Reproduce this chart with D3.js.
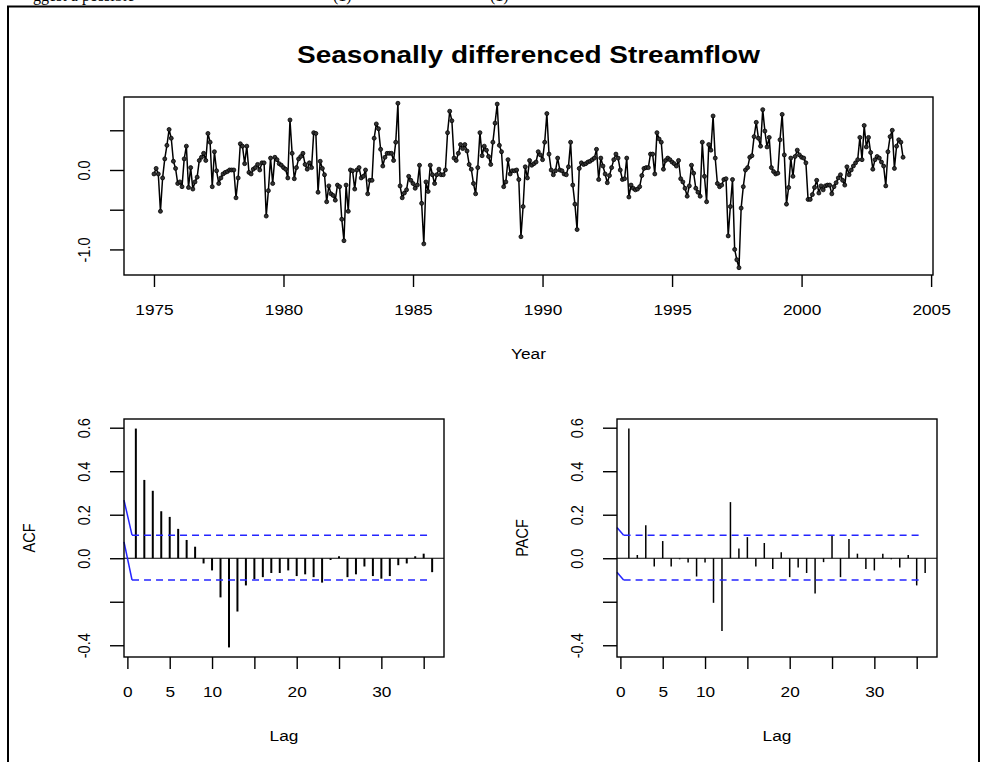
<!DOCTYPE html>
<html>
<head>
<meta charset="utf-8">
<script src="https://cdn.jsdelivr.net/npm/d3@7"></script>
<style>
  body { margin: 0; background: #fff; }
  svg { display: block; }
  text { font-family: "Liberation Sans", Arial, sans-serif; fill: #000; }
</style>
</head>
<body>
<div id="chart"></div>
<script>

// seasonally differenced streamflow, monthly from Jan 1975
var flowStart = 1975;
var flowValues = [
  -0.05, 0.02, -0.05, -0.52, -0.10, 0.14, 0.31, 0.51, 0.40, 0.11, 0.02, -0.17,   // 1975
  -0.15, -0.21, 0.14, 0.30, -0.22, 0.03, -0.24, -0.15, -0.09, 0.12, 0.16, 0.21,  // 1976
  0.12, 0.46, 0.35, -0.21, 0.23, -0.01, -0.17, -0.10, -0.05, -0.03, -0.02, 0.00, // 1977
  0.00, 0.00, -0.35, -0.10, 0.33, 0.30, 0.08, 0.30, -0.03, -0.05, 0.01, 0.03,    // 1978
  0.07, 0.00, 0.09, 0.09, -0.58, -0.26, 0.15, -0.17, 0.16, 0.13, 0.08, 0.06,     // 1979
  0.03, 0.01, -0.10, 0.63, 0.21, -0.11, 0.03, 0.14, 0.17, 0.21, 0.07, 0.01,      // 1980
  0.09, 0.03, 0.47, 0.46, -0.28, 0.11, 0.02, -0.06, -0.40, -0.20, -0.30, -0.32,  // 1981
  -0.38, -0.19, -0.21, -0.62, -0.89, -0.19, -0.52, 0.00, -0.01, -0.24, 0.00, 0.03, // 1982
  -0.10, -0.08, 0.00, -0.30, -0.13, -0.13, 0.40, 0.58, 0.52, 0.26, 0.05, 0.16,   // 1983
  0.21, 0.21, 0.21, 0.12, 0.35, 0.84, -0.20, -0.35, -0.29, -0.25, -0.08, -0.13,  // 1984
  -0.17, -0.23, -0.19, 0.06, -0.42, -0.93, -0.15, -0.27, 0.06, -0.06, -0.17, -0.06, // 1985
  0.01, -0.06, -0.06, 0.00, 0.47, 0.74, 0.62, 0.15, 0.12, 0.21, 0.32, 0.27,      // 1986
  0.32, 0.24, 0.07, 0.01, -0.17, -0.30, 0.03, 0.47, 0.18, 0.30, 0.25, 0.17,      // 1987
  0.07, 0.35, 0.59, 0.83, 0.31, 0.23, -0.21, -0.15, 0.13, -0.05, -0.01, -0.01,   // 1988
  0.00, -0.12, -0.84, -0.46, 0.04, -0.10, 0.12, 0.06, 0.08, 0.10, 0.23, 0.19,    // 1989
  0.13, 0.35, 0.71, 0.20, 0.00, -0.06, -0.01, 0.15, 0.00, -0.01, -0.05, -0.06,   // 1990
  0.04, 0.35, -0.19, -0.43, -0.75, 0.02, 0.09, 0.07, 0.08, 0.10, 0.11, 0.13,     // 1991
  0.15, 0.26, -0.12, 0.15, 0.05, -0.05, -0.16, -0.07, 0.03, 0.13, 0.20, 0.15,    // 1992
  0.00, -0.12, -0.11, 0.15, -0.34, -0.19, -0.23, -0.25, -0.24, -0.21, -0.07, 0.02, // 1993
  0.03, 0.03, 0.20, 0.20, -0.05, 0.47, 0.39, 0.35, 0.01, 0.12, 0.15, 0.13,       // 1994
  0.10, 0.08, 0.05, 0.12, -0.11, -0.15, -0.23, -0.33, -0.20, 0.06, -0.04, -0.23, // 1995
  -0.28, -0.33, 0.35, -0.08, -0.40, 0.32, 0.25, 0.68, 0.15, -0.17, -0.21, -0.19, // 1996
  -0.12, -0.11, -0.83, -0.46, -0.12, -1.00, -1.13, -1.23, -0.48, -0.21, 0.00, 0.03, // 1997
  0.16, 0.18, 0.42, 0.60, 0.40, 0.30, 0.76, 0.49, 0.29, 0.41, 0.03, -0.02,       // 1998
  -0.05, -0.04, 0.38, 0.70, 0.19, -0.43, -0.22, 0.15, -0.08, 0.17, 0.25, 0.19,   // 1999
  0.16, 0.15, 0.09, -0.37, -0.37, -0.31, -0.22, -0.13, -0.29, -0.20, -0.25, -0.20, // 2000
  -0.19, -0.19, -0.30, -0.21, -0.16, -0.10, -0.06, -0.13, -0.19, 0.04, -0.06, 0.00, // 2001
  0.05, 0.09, 0.13, 0.41, 0.13, 0.56, 0.29, 0.41, 0.22, 0.01, 0.13, 0.17,        // 2002
  0.15, 0.10, 0.05, -0.20, 0.23, 0.42, 0.50, 0.02, 0.30, 0.38, 0.35, 0.16        // 2003
];
var yearTicks = [1975, 1980, 1985, 1990, 1995, 2000, 2005];
var flowTicks = [-1.0, -0.5, 0.0, 0.5];
var flowTickLabels = ["-1.0", "", "0.0", ""];

// sample ACF / PACF, lags 1..36
var lags = d3.range(1, 37);
var acfValues = [0.596, 0.36, 0.31, 0.216, 0.19, 0.135, 0.084, 0.053, -0.024, -0.056, -0.18, -0.41,
  -0.245, -0.125, -0.096, -0.087, -0.068, -0.068, -0.056, -0.082, -0.074, -0.087, -0.112, -0.008,
  0.009, -0.087, -0.074, -0.038, -0.082, -0.094, -0.082, -0.032, -0.024, 0.009, 0.021, -0.064];
var pacfValues = [0.596, 0.015, 0.152, -0.038, 0.079, -0.038, -0.005, -0.02, -0.084, -0.02, -0.205, -0.334,
  0.258, 0.045, 0.097, -0.038, 0.07, -0.049, 0.027, -0.087, -0.043, -0.068, -0.162, -0.018,
  0.106, -0.087, 0.088, 0.021, -0.049, -0.056, 0.021, -0.005, -0.043, 0.015, -0.125, -0.068];
var lagTicks = [0, 5, 10, 15, 20, 25, 30, 35];
var lagTickLabels = ["0", "5", "10", "", "20", "", "30", ""];
var corTicks = [-0.4, -0.2, 0.0, 0.2, 0.4, 0.6];
var corTickLabels = ["-0.4", "", "0.0", "0.2", "0.4", "0.6"];

// confidence band: [value at left edge, value of dashed line]
var acfUpper = [0.267, 0.106], acfLower = [0.075, -0.100], acfBandLags = [-0.4, 0.55, 35.8];
var pacfUpper = [0.141, 0.106], pacfLower = [-0.064, -0.100], pacfBandLags = [-0.4, 0.38, 35.7];


var W = 985, H = 762;
var SX = 1.19;          // the picture is stretched sideways
var FS = 14.5;

var svg = d3.select("#chart")
  .append("svg")
  .attr("width", W)
  .attr("height", H);

// clipped line of text from the page above
var cut = svg.append("text")
  .attr("y", 1)
  .style("font-family", "'Liberation Serif', 'Times New Roman', serif")
  .style("font-size", "16px");
cut.append("tspan").attr("x", 33).text("ggest a possible");
cut.append("tspan").attr("x", 333).text("(1)");
cut.append("tspan").attr("x", 490).text("(1)");

svg.append("rect")
  .attr("x", 8).attr("y", 6.5)
  .attr("width", 971).attr("height", 800)
  .attr("fill", "none")
  .attr("stroke", "#000")
  .attr("stroke-width", 2);

function label(x, y, str, size, rot, bold) {
  return svg.append("text")
    .attr("text-anchor", "middle")
    .attr("dy", rot ? "0.35em" : 0)
    .attr("transform", "translate(" + x + "," + y + ") scale(" + SX + ",1)" + (rot ? " rotate(-90)" : ""))
    .style("font-size", size + "px")
    .style("font-weight", bold ? "bold" : null)
    .text(str);
}

function bottomAxis(scale, y, ticks, labels) {
  var g = svg.append("g")
    .attr("transform", "translate(0," + y + ")")
    .call(d3.axisBottom(scale).tickValues(ticks).tickSize(12).tickSizeOuter(0)
      .tickFormat(function (d, i) { return labels[i]; }))
    .attr("font-family", null).attr("font-size", null);
  g.select(".domain").remove();
  g.selectAll("line").attr("stroke", "#000").attr("stroke-width", 1.4);
  g.selectAll("text")
    .attr("y", 40).attr("dy", 0)
    .attr("transform", "scale(" + SX + ",1)")
    .style("font-size", FS + "px");
}

function leftAxis(scale, x, ticks, labels) {
  var g = svg.append("g")
    .attr("transform", "translate(" + x + ",0)")
    .call(d3.axisLeft(scale).tickValues(ticks).tickSize(14).tickSizeOuter(0)
      .tickFormat(function (d, i) { return labels[i]; }))
    .attr("font-family", null).attr("font-size", null);
  g.select(".domain").remove();
  g.selectAll("line").attr("stroke", "#000").attr("stroke-width", 1.4);
  g.selectAll("text")
    .attr("x", 0).attr("dy", "0.35em")
    .attr("text-anchor", "middle")
    .attr("transform", "translate(-40,0) scale(" + SX + ",1) rotate(-90)")
    .style("font-size", FS + "px");
}

function box(x0, y0, x1, y1) {
  svg.append("rect")
    .attr("x", x0).attr("y", y0)
    .attr("width", x1 - x0).attr("height", y1 - y0)
    .attr("fill", "none")
    .attr("stroke", "#000")
    .attr("stroke-width", 1.4);
}


// ---- time series panel
var ts = { left: 124, right: 933, top: 97, bottom: 275 };

var xTime = d3.scaleLinear().domain([1973.843, 2005.073]).range([ts.left, ts.right]);
var yFlow = d3.scaleLinear().domain([-1.322, 0.919]).range([ts.bottom, ts.top]);

var flow = flowValues.map(function (v, i) { return { t: flowStart + i / 12, v: v }; });

svg.append("path")
  .datum(flow)
  .attr("fill", "none")
  .attr("stroke", "#000")
  .attr("stroke-width", 1.5)
  .attr("stroke-linejoin", "round")
  .attr("d", d3.line()
    .x(function (d) { return xTime(d.t); })
    .y(function (d) { return yFlow(d.v); }));

svg.selectAll(".pt")
  .data(flow).enter()
  .append("circle")
  .attr("class", "pt")
  .attr("cx", function (d) { return xTime(d.t); })
  .attr("cy", function (d) { return yFlow(d.v); })
  .attr("r", 2)
  .attr("fill", "#333")
  .attr("stroke", "#000")
  .attr("stroke-width", 0.8);

box(ts.left, ts.top, ts.right, ts.bottom);
bottomAxis(xTime, ts.bottom, yearTicks, yearTicks.map(String));
leftAxis(yFlow, ts.left, flowTicks, flowTickLabels);

label((ts.left + ts.right) / 2, 63, "Seasonally differenced Streamflow", 23.5, false, true);
label((ts.left + ts.right) / 2, 359, "Year", FS);


// ---- correlogram panels
function correlogram(left, values, upper, lower, bandLags, barWidth, name) {
  var p = { left: left, right: left + 320, top: 419, bottom: 657 };

  var xLag = d3.scaleLinear().domain([-0.4, 37.4]).range([p.left, p.right]);
  var yCor = d3.scaleLinear().domain([-0.454, 0.640]).range([p.bottom, p.top]);

  svg.append("line")
    .attr("x1", p.left).attr("x2", p.right)
    .attr("y1", yCor(0)).attr("y2", yCor(0))
    .attr("stroke", "#000").attr("stroke-width", 1.2);

  svg.selectAll(".bar-" + name)
    .data(lags).enter()
    .append("line")
    .attr("class", "bar-" + name)
    .attr("x1", function (d) { return xLag(d); })
    .attr("x2", function (d) { return xLag(d); })
    .attr("y1", yCor(0))
    .attr("y2", function (d, i) { return yCor(values[i]); })
    .attr("stroke", "#000")
    .attr("stroke-width", barWidth);

  [upper, lower].forEach(function (b) {
    svg.append("line")
      .attr("x1", xLag(bandLags[0])).attr("y1", yCor(b[0]))
      .attr("x2", xLag(bandLags[1])).attr("y2", yCor(b[1]))
      .attr("stroke", "#2424ff").attr("stroke-width", 1.5);
    svg.append("line")
      .attr("x1", xLag(bandLags[1])).attr("y1", yCor(b[1]))
      .attr("x2", xLag(bandLags[2])).attr("y2", yCor(b[1]))
      .attr("stroke", "#2424ff").attr("stroke-width", 1.5)
      .attr("stroke-dasharray", "7,5");
  });

  box(p.left, p.top, p.right, p.bottom);
  bottomAxis(xLag, p.bottom, lagTicks, lagTickLabels);
  leftAxis(yCor, p.left, corTicks, corTickLabels);

  label((p.left + p.right) / 2, 741, "Lag", FS);
  label(p.left - 95, (p.top + p.bottom) / 2, name, FS, true);
}

correlogram(124, acfValues, acfUpper, acfLower, acfBandLags, 2, "ACF");
correlogram(617, pacfValues, pacfUpper, pacfLower, pacfBandLags, 1.5, "PACF");

</script>
</body>
</html>
